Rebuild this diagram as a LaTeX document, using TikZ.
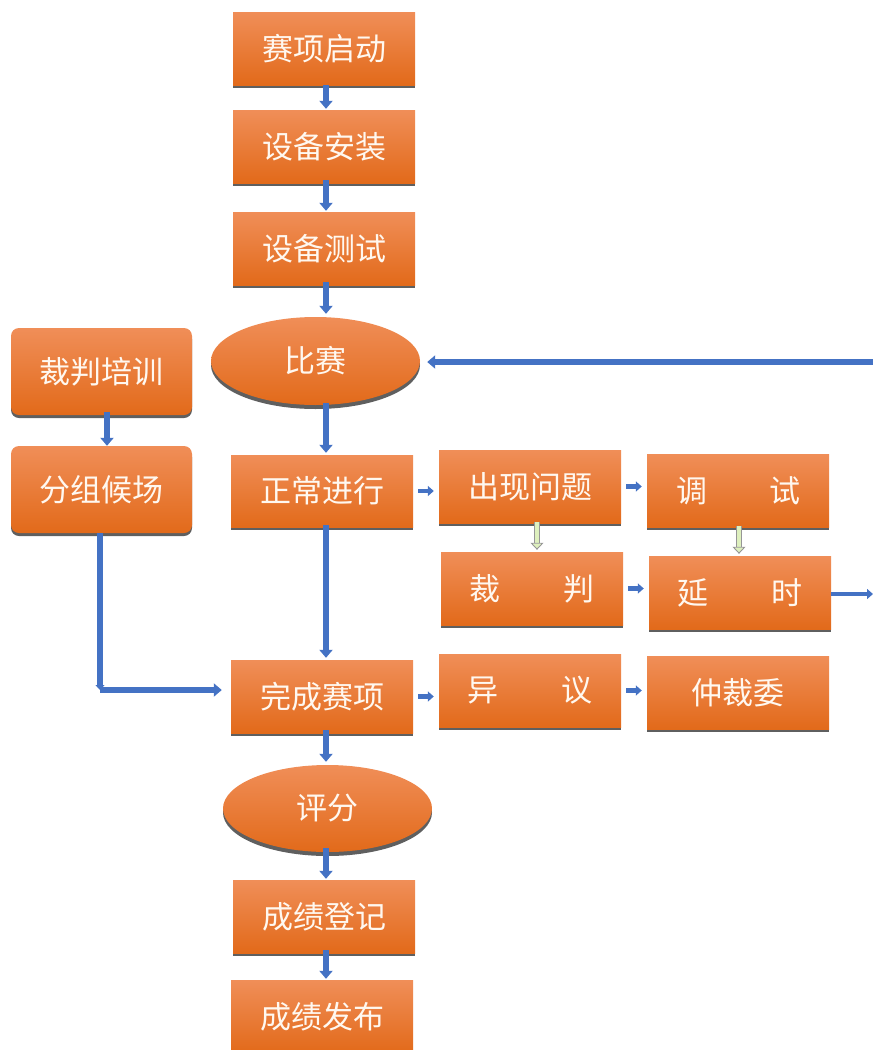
\documentclass[tikz,border=0pt]{standalone}
\usepackage{fontspec}
\setmainfont{Noto Sans CJK SC}
\usetikzlibrary{shapes.geometric,shadows,arrows.meta}
\definecolor{otop}{RGB}{240,142,88}
\definecolor{omid}{RGB}{243,126,46}
\definecolor{obot}{RGB}{226,106,26}
\definecolor{shgray}{RGB}{95,95,95}
\definecolor{arrblue}{RGB}{68,114,196}
\definecolor{holgreen}{RGB}{222,240,190}
\definecolor{holgray}{RGB}{150,150,150}
\definecolor{txt}{RGB}{255,248,240}
\begin{document}
\begin{tikzpicture}[x=1pt,y=-1pt,
  box/.style={rectangle, minimum width=182pt, minimum height=73pt, inner sep=0pt,
    top color=otop, middle color=omid, bottom color=obot, text=txt,
    font=\fontsize{31}{31}\selectfont,
    general shadow={fill=shgray, shadow yshift=-3pt}},
  rbox/.style={box, rounded corners=8pt, minimum width=181pt, minimum height=87pt},
  ell/.style={ellipse, minimum width=209pt, minimum height=88pt, inner sep=0pt,
    top color=otop, middle color=omid, bottom color=obot, text=txt,
    font=\fontsize{31}{31}\selectfont,
    general shadow={fill=shgray, shadow yshift=-4pt}},
  arr/.style={draw=arrblue, line width=5.5pt, -{Triangle[length=8pt,width=13pt]}},
  sarr/.style={draw=arrblue, line width=4.5pt, -{Triangle[length=6pt,width=10pt]}, shorten <=5pt, shorten >=5pt},
  hol/.style={draw=holgray, line width=0.9pt, double=holgreen, double distance=4.5pt,
    -{Triangle[length=7pt,width=13pt,fill=holgreen]}, shorten <=2pt, shorten >=2pt}
]
\useasboundingbox (0,0) rectangle (873,1050);
\coordinate (X) at (326,0);

\node[box] (s1) at (324,48.5) {赛项启动};
\node[box] (s2) at (324,146.5) {设备安装};
\node[box] (s3) at (324,248.5) {设备测试};
\node[ell] (bs) at (315.5,361) {比赛};
\node[rbox] (px) at (101.5,371.5) {裁判培训};
\node[rbox] (fz) at (101.5,489.5) {分组候场};
\node[box, minimum height=72pt] (zc) at (322,491) {正常进行};
\node[box] (cx) at (530,486.5) {出现问题};
\node[box] (ts) at (738,490.5) {调\hspace{62pt}试};
\node[box] (cp) at (532,588.5) {裁\hspace{63pt}判};
\node[box] (ys) at (740,592.5) {延\hspace{63pt}时};
\node[box] (wc) at (322,696.5) {完成赛项};
\node[box] (yy) at (530,690.5) {异\hspace{63pt}议};
\node[box] (zcw) at (738,692.5) {仲裁委};
\node[ell, minimum height=87pt] (pf) at (327.5,808.5) {评分};
\node[box] (dj) at (324,916.5) {成绩登记};
\node[box] (fb) at (322,1016.5) {成绩发布};

\coordinate (rin) at (873,362);
\coordinate (rout) at (873,594);
\coordinate (corner) at (100,690);

\draw[arr] (s1.south -| X) -- ([yshift=1pt]s2.north -| X);
\draw[arr] ([yshift=3pt]s2.south -| X) -- ([yshift=1pt]s3.north -| X);
\draw[arr] ([yshift=3pt]s3.south -| X) -- ([yshift=3pt]bs.north -| X);
\draw[arr] ([yshift=2pt]bs.south -| X) -- ([yshift=2pt]zc.north -| X);
\draw[arr] (rin) -- ([xshift=7pt]bs.east |- rin);
\draw[arr] ([yshift=3pt]px.south -| 107,0) -- (fz.north -| 107,0);
\draw[arr] ([yshift=2pt]zc.south -| X) -- ([yshift=2pt]wc.north -| X);
\draw[arr, -{Triangle[length=5pt,width=9pt]}] (fz.south -| corner) -- (corner);
\draw[arr] (corner) -- ([xshift=-9pt]corner -| wc.west);
\draw[sarr] (zc.east) -- (cx.west |- zc.east);
\draw[sarr] (cx.east) -- (ts.west |- cx.east);
\draw[sarr] (cp.east) -- (ys.west |- cp.east);
\draw[sarr] (wc.east) -- (yy.west |- wc.east);
\draw[sarr] (yy.east) -- (zcw.west |- yy.east);
\draw[arr, line width=4.5pt, -{Triangle[length=6pt,width=10pt]}] (ys.east |- rout) -- (rout);
\draw[hol] ([yshift=3pt]cx.south -| 537,0) -- (cp.north -| 537,0);
\draw[hol] ([yshift=3pt]ts.south -| 739,0) -- (ys.north -| 739,0);
\draw[arr] ([yshift=3pt]wc.south -| X) -- ([yshift=3pt]pf.north -| X);
\draw[arr] ([yshift=4pt]pf.south -| X) -- ([yshift=1pt]dj.north -| X);
\draw[arr] ([yshift=3pt]dj.south -| X) -- ([yshift=1pt]fb.north -| X);
\end{tikzpicture}
\end{document}
